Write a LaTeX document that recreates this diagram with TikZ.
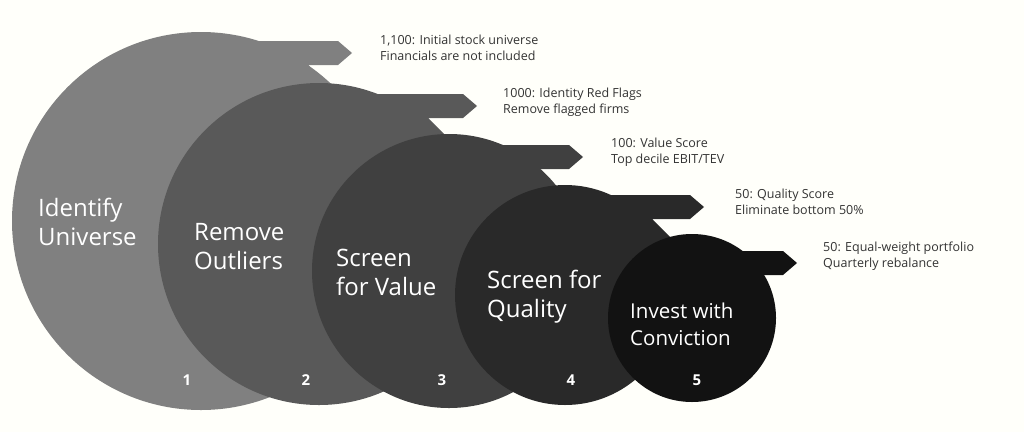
\documentclass[tikz,border=0pt]{standalone}
\usepackage{fontspec}
\setmainfont{Open Sans}
\begin{document}
\begin{tikzpicture}[x=1pt,y=-1pt,
  big/.style={text=white,font=\fontsize{24}{29}\selectfont,align=left,anchor=west,inner sep=0},
  num/.style={text=white,font=\fontsize{15}{18}\selectfont\bfseries,inner sep=0},
  side/.style={text=black!80,font=\fontsize{12.5}{16}\selectfont,align=left,anchor=north west,inner sep=0}]
\fill[white!98!yellow] (0,0) rectangle (1024,432);
\useasboundingbox (0,0) rectangle (1024,432);
\def\stage#1#2#3#4#5#6#7#8#9{% color cx cy r top end lowstart dx dy
  \fill[#1] (#2,#5) -- (#6,#5) -- (#6+14,#5+12) -- (#6,#5+24) -- (#7,#5+24) -- (#7+#8,#5+24+#9) -- (#2,#3) -- cycle;
  \fill[#1] (#2,#3) circle[radius=#4];}
\stage{black!50}{201}{221}{189}{41}{338}{308}{35}{35}
\stage{black!65}{319}{244}{161}{94}{463}{428}{30}{30}
\stage{black!75}{449}{271}{137}{145}{569}{539}{30}{30}
\stage{black!84}{565}{295}{110}{195}{690}{652}{30}{30}
\stage{black!93}{692}{318}{84}{251}{783}{763}{5}{10}
\node[big] (l1) at (38,222) {Identify\\Universe};
\node[big] (l2) at (194,247) {Remove\\Outliers};
\node[big] (l3) at (336,272) {Screen\\for Value};
\node[big] (l4) at (487,297) {Screen for\\Quality};
\node[big,font=\fontsize{20.5}{27}\selectfont] (l5) at (630,324) {Invest with\\Conviction};
\node[num] (n1) at (187,380) {1};
\node[num] (n2) at (306,380) {2};
\node[num] (n3) at (442,380) {3};
\node[num] (n4) at (571,380) {4};
\node[num] (n5) at (697,380) {5};
\node[side] (s1) at (380,35) {1,100: Initial stock universe\\Financials are not included};
\node[side] (s2) at (503,88) {1000: Identity Red Flags\\Remove flagged firms};
\node[side] (s3) at (611,138) {100: Value Score\\Top decile EBIT/TEV};
\node[side] (s4) at (735,189) {50: Quality Score\\Eliminate bottom 50\%};
\node[side] (s5) at (823,242) {50: Equal-weight portfolio\\Quarterly rebalance};
\end{tikzpicture}
\end{document}
